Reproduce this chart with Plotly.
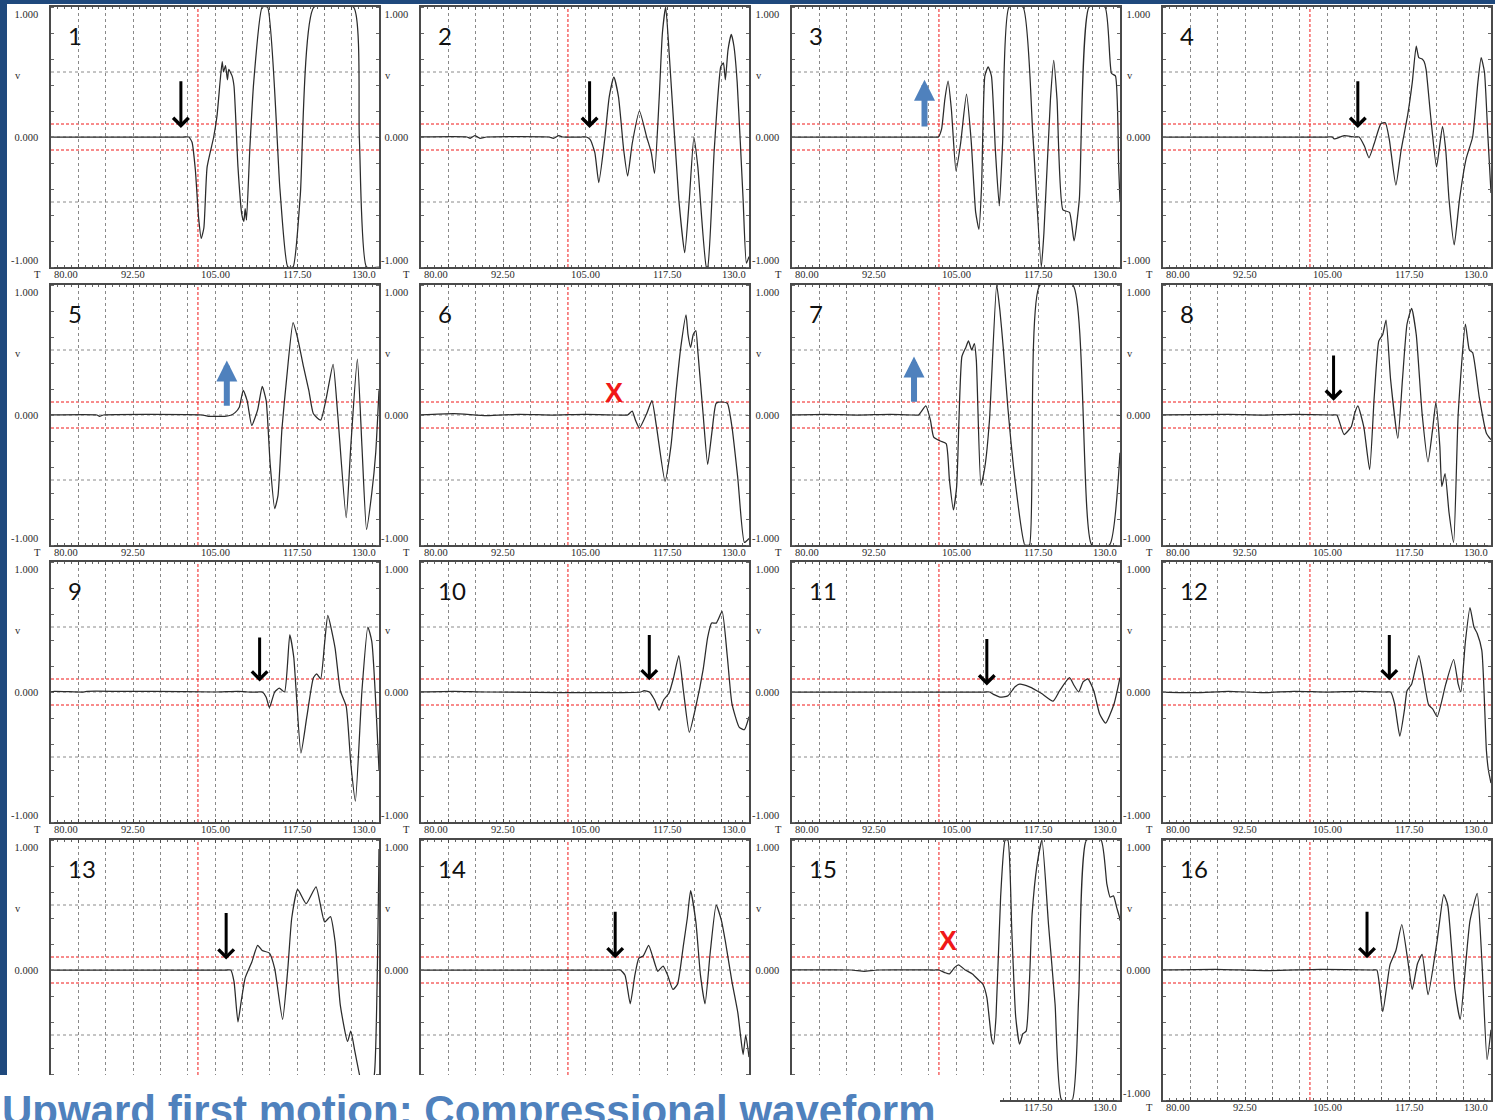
import plotly.graph_objects as go

# ---------------------------------------------------------------- data
TIME_RANGE = [80.0, 130.0]
AMP_RANGE = [-1.0, 1.0]
TIME_LABEL_VALUES = [80.0, 92.5, 105.0, 117.5, 130.0]
TIME_LABELS = ["80.00", "92.50", "105.00", "117.50", "130.0"]
TIME_GRID_STEP = 50.0 / 12
AMP_LABEL_VALUES = [0.94, 0.0, -0.95]
AMP_LABELS = ["1.000", "0.000", "-1.000"]
AMP_UNIT_LEVEL = 0.47
AMP_GRID = [-0.5, 0.0, 0.5]
PICK_TIME = 102.4
NOISE_BAND = [-0.1, 0.1]
PANEL_LABELS = [str(i) for i in range(1, 17)]
TITLE = "Upward first motion: Compressional waveform"

# waveforms: (time, amplitude) pairs
wave_01 = [(80, 0), (100.2, 0), (101.0, 0), (101.5, -0.04), (102.0, -0.25), (102.5, -0.62), (102.9, -0.78),
           (103.3, -0.7), (103.8, -0.23), (104.8, 0.0), (105.3, 0.16), (105.8, 0.44), (106.1, 0.58),
           (106.3, 0.50), (106.6, 0.55), (106.9, 0.44), (107.1, 0.52), (107.6, 0.47), (107.9, 0.39),
           (108.5, -0.23), (109.1, -0.6), (109.4, -0.65), (109.6, -0.55), (109.8, -0.64), (110.3, -0.1),
           (110.9, 0.42), (112.2, 1.0), (113.0, 1.0), (114.9, -0.4), (116.1, -1.0), (116.9, -1.0),
           (118.0, -0.45), (120.1, 1.0), (126.1, 1.0), (127.0, 0.0), (128.1, -1.0), (130, -1.0)]
wave_02 = [(80, 0), (87.0, 0), (87.5, -0.01), (88.2, 0.01), (89.0, -0.01), (90.0, 0), (99.5, 0),
           (100.2, -0.01), (101.0, 0.01), (101.6, 0), (104.4, 0), (105.2, 0), (105.8, -0.02), (106.5, -0.12),
           (107.1, -0.35), (108.0, -0.02), (108.7, 0.31), (109.4, 0.46), (110.1, 0.31), (110.9, -0.1),
           (111.5, -0.30), (112.2, -0.05), (113.3, 0.20), (114.4, 0.0), (115.1, -0.12), (115.6, -0.28),
           (116.3, 0.29), (116.8, 0.8), (117.3, 1.0), (117.9, 0.59), (119.3, -0.48), (120.2, -0.89),
           (120.9, -0.48), (121.6, 0.0), (122.2, -0.23), (123.5, -1.0), (123.7, -1.0), (124.7, -0.1),
           (125.7, 0.54), (126.1, 0.57), (126.4, 0.44), (126.8, 0.67), (127.3, 0.79), (127.7, 0.7),
           (128.2, 0.42), (129.1, -0.48), (129.6, -0.97), (130, -0.92)]
wave_03 = [(80, 0), (101.5, 0), (102.3, 0), (102.8, 0.06), (103.3, 0.29), (103.8, 0.43), (104.3, 0.21),
           (105.0, -0.26), (105.7, -0.05), (106.6, 0.33), (107.3, -0.02), (108.0, -0.58), (108.5, -0.71),
           (108.9, -0.38), (109.4, 0.47), (109.9, 0.54), (110.4, 0.47), (111.0, -0.1), (111.6, -0.53),
           (112.1, -0.05), (113.1, 1.0), (115.2, 1.0), (116.7, 0.03), (118.0, -1.0), (118.4, -0.74),
           (119.4, 0.29), (119.9, 0.59), (120.4, 0.29), (121.3, -0.56), (122.3, -0.58), (123.0, -0.80),
           (123.8, -0.48), (125.3, 1.0), (127.7, 1.0), (128.7, 0.49), (129.3, 0.47), (129.8, -0.23),
           (130, -0.5)]
wave_04 = [(80, 0), (105.0, 0), (105.8, 0), (106.1, -0.015), (107.6, 0.01), (109.2, 0), (109.9, 0),
           (110.7, -0.07), (111.4, -0.16), (112.2, -0.05), (113.2, 0.10), (113.9, 0.11), (114.5, -0.02),
           (115.5, -0.37), (116.3, -0.1), (117.3, 0.17), (118.0, 0.42), (118.6, 0.70), (119.0, 0.61),
           (119.5, 0.60), (119.8, 0.58), (120.1, 0.52), (120.8, 0.16), (121.7, -0.23), (122.6, 0.08),
           (123.1, -0.1), (123.6, -0.48), (124.4, -0.83), (125.2, -0.48), (126.2, -0.17), (127.2, 0.0),
           (128.0, 0.42), (128.5, 0.61), (129.0, 0.5), (129.5, 0.03), (130, -0.43)]
wave_05 = [(80, 0), (87.0, 0), (87.4, -0.01), (88.0, 0), (103.0, 0), (104.0, -0.01), (106.5, -0.01),
           (107.5, 0.0), (108.1, 0.02), (108.7, 0.06), (109.3, 0.19), (109.9, 0.11), (110.6, -0.08),
           (111.5, 0.04), (112.2, 0.22), (112.8, 0.11), (113.4, -0.37), (114.1, -0.72), (114.6, -0.62),
           (115.2, -0.11), (115.9, 0.27), (116.9, 0.71), (117.6, 0.59), (118.5, 0.37), (119.3, 0.19),
           (120.0, 0.01), (121.1, -0.04), (122.0, 0.14), (123.0, 0.39), (123.7, 0.01), (125.0, -0.79),
           (125.7, -0.24), (126.7, 0.43), (127.4, -0.24), (128.1, -0.88), (128.9, -0.6), (129.5, -0.29),
           (130, 0.19)]
wave_06 = [(80, 0), (85, 0.01), (90, -0.005), (95, 0.005), (100, 0), (105, 0.005), (110, 0),
           (111.5, 0.0), (112.2, 0.03), (112.7, -0.04), (113.3, -0.10), (114.4, 0.01), (115.2, 0.11),
           (115.9, -0.09), (117.2, -0.51), (118.1, -0.24), (118.9, 0.19), (119.6, 0.52), (120.4, 0.77),
           (120.7, 0.62), (121.1, 0.52), (121.5, 0.62), (121.9, 0.65), (122.2, 0.49), (123.0, 0.01),
           (123.7, -0.38), (124.4, -0.11), (125.0, 0.09), (125.9, 0.10), (126.7, 0.09), (127.4, -0.09),
           (128.3, -0.49), (129.3, -0.98), (130, -0.95)]
wave_07 = [(80, 0), (85, 0.005), (90, 0), (95, 0.005), (98.6, 0), (99.3, 0), (100.4, 0.07), (101.1, -0.04),
           (101.6, -0.17), (102.6, -0.2), (103.5, -0.22), (104.0, -0.5), (104.6, -0.73), (105.1, -0.55),
           (105.9, 0.45), (106.5, 0.52), (106.9, 0.57), (107.4, 0.5), (107.8, 0.55), (108.1, 0.42),
           (108.8, -0.54), (109.4, -0.4), (110.1, -0.04), (111.2, 1.0), (111.7, 0.8), (112.2, 0.52),
           (112.9, 0.06), (114.0, -0.5), (115.5, -1.0), (116.2, -1.0), (117.8, 1.0), (122.8, 1.0),
           (125.7, -1.0), (128.4, -1.0), (130, -0.29)]
wave_08 = [(80, 0), (90, 0.005), (95, 0), (100, 0.005), (105.8, 0), (106.5, 0), (107.6, -0.15), (108.7, -0.09),
           (109.2, 0.01), (109.7, 0.07), (110.6, -0.09), (111.5, -0.42), (112.2, 0.14), (112.9, 0.57),
           (113.5, 0.62), (114.0, 0.73), (114.7, 0.27), (115.8, -0.18), (116.5, 0.27), (117.2, 0.70),
           (117.9, 0.82), (118.6, 0.62), (119.5, 0.01), (120.4, -0.36), (121.1, -0.11), (121.6, 0.1),
           (122.2, -0.24), (122.5, -0.55), (123.0, -0.45), (123.6, -0.75), (124.3, -0.98), (125.0, 0.01),
           (126.1, 0.70), (126.7, 0.5), (127.2, 0.48), (128.2, 0.14), (129.3, -0.14), (130, -0.19)]
wave_09 = [(80, 0), (80.5, 0.005), (85, 0.0), (85.5, 0.005), (90.5, 0.005), (95.5, 0.005), (105, 0),
           (108.5, 0.005), (110, 0.0), (111.5, 0), (112.2, 0), (112.8, -0.04), (113.3, -0.12), (114.1, 0.0),
           (114.8, 0.03), (115.6, 0.0), (116.4, 0.44), (117.0, 0.27), (118.1, -0.47), (119.0, -0.19),
           (120.0, 0.11), (120.5, 0.14), (121.1, 0.10), (121.7, 0.37), (122.2, 0.59), (123.3, 0.34),
           (124.1, 0.01), (125.0, -0.11), (125.7, -0.55), (126.4, -0.84), (127.4, 0.01), (128.3, 0.50),
           (128.9, 0.39), (130, -0.6)]
wave_10 = [(80, 0), (85, 0.005), (90, 0), (113.5, 0), (114.0, 0.01), (114.8, 0), (115.6, -0.06),
           (116.3, -0.14), (117.0, -0.06), (117.8, -0.01), (118.5, 0.11), (119.3, 0.28), (120.0, 0.01),
           (120.9, -0.31), (121.9, -0.11), (123.0, 0.17), (123.7, 0.42), (124.3, 0.53), (125.0, 0.53),
           (125.9, 0.62), (126.7, 0.27), (127.4, -0.09), (128.5, -0.27), (129.3, -0.29), (130, -0.19)]
wave_11 = [(80, 0), (109.4, 0), (110.1, 0), (110.8, -0.02), (111.7, -0.04), (112.9, -0.03), (114.0, 0.04),
           (114.7, 0.06), (116.2, 0.04), (118.0, -0.01), (119.8, -0.07), (120.8, 0.01), (122.3, 0.11),
           (123.0, 0.05), (123.7, 0.0), (124.4, 0.08), (125.1, 0.10), (126.0, 0.01), (126.9, -0.17),
           (127.8, -0.24), (129.1, -0.09), (130, 0.11)]
wave_12 = [(80, 0), (85, -0.005), (90, 0.005), (95, -0.005), (100, 0.005), (105, 0), (110, 0.005),
           (114.0, 0), (114.7, 0), (115.3, -0.09), (116.1, -0.34), (116.8, -0.14), (117.2, 0.01), (117.9, 0.06),
           (119.0, 0.28), (119.7, 0.11), (120.5, -0.10), (121.1, -0.13), (121.8, -0.19), (123.1, 0.06),
           (124.3, 0.25), (125.0, 0.06), (125.4, 0.0), (126.1, 0.39), (126.8, 0.65), (127.4, 0.5),
           (127.9, 0.45), (128.6, 0.32), (129.3, -0.45), (129.6, -0.6), (130, -0.7)]
wave_13 = [(80, 0), (106.7, 0), (107.4, 0), (107.9, -0.09), (108.5, -0.40), (109.0, -0.24), (109.6, -0.06),
           (110.6, 0.06), (111.5, 0.19), (112.2, 0.15), (113.3, 0.13), (114.1, 0.01), (115.3, -0.38),
           (116.1, 0.01), (116.7, 0.40), (117.6, 0.62), (118.9, 0.51), (120.4, 0.64), (121.7, 0.37),
           (122.6, 0.41), (123.3, 0.22), (124.1, -0.27), (125.2, -0.55), (125.7, -0.47), (126.3, -0.62),
           (127.0, -0.8), (127.8, -0.98), (128.6, -0.95), (129.3, -0.8), (130, 0.93)]
wave_14 = [(80, 0), (109.7, 0), (110.4, 0), (111.1, -0.04), (111.9, -0.26), (112.6, -0.04), (113.2, 0.09),
           (113.9, 0.11), (114.7, 0.19), (115.4, 0.09), (116.1, -0.01), (116.9, 0.03), (117.6, -0.04),
           (118.4, -0.15), (119.1, -0.11), (120.0, 0.19), (120.6, 0.40), (121.1, 0.61), (121.9, 0.37),
           (122.6, -0.04), (123.3, -0.26), (124.1, 0.14), (125.0, 0.50), (125.8, 0.38), (126.4, 0.22),
           (127.4, -0.09), (128.3, -0.33), (128.7, -0.5), (129.1, -0.65), (129.5, -0.5), (130, -0.67)]
wave_15 = [(80, 0), (89, 0.0), (91, -0.01), (93, 0), (101.7, 0), (102.4, 0), (103.3, -0.02), (104.0, -0.03),
           (104.8, 0.02), (105.4, 0.04), (106.4, 0.0), (107.5, -0.03), (108.5, -0.08), (109.1, -0.11),
           (109.7, -0.21), (110.4, -0.52), (110.7, -0.57), (111.1, -0.36), (111.8, 0.56), (112.5, 1.0),
           (112.9, 1.0), (113.5, 0.31), (114.1, -0.36), (114.7, -0.57), (115.2, -0.49), (115.7, -0.47),
           (116.6, 0.43), (117.3, 0.79), (118.1, 1.0), (119.1, 0.35), (120.1, -0.26), (121.1, -1.0),
           (122.7, -1.0), (123.7, -0.21), (124.9, 1.0), (127.1, 1.0), (128.0, 0.66), (128.5, 0.56),
           (129.0, 0.57), (129.5, 0.48), (129.9, 0.41), (130, 0.38)]
wave_16 = [(80, 0), (88, 0.005), (96, -0.005), (104, 0.005), (111.9, 0), (112.6, 0), (113.5, -0.32), (114.6, 0.04),
           (115.5, 0.15), (116.4, 0.35), (117.3, 0.08), (118.0, -0.15), (118.8, 0.05), (119.5, 0.12),
           (120.4, -0.19), (121.8, 0.23), (122.8, 0.58), (123.4, 0.5), (124.5, -0.15), (125.3, -0.38),
           (126.2, 0.08), (126.8, 0.38), (127.9, 0.59), (128.6, 0.08), (129.4, -0.69), (130, -0.46)]

WAVES = [wave_01, wave_02, wave_03, wave_04, wave_05, wave_06, wave_07, wave_08,
         wave_09, wave_10, wave_11, wave_12, wave_13, wave_14, wave_15, wave_16]

# first-motion marks: (panel, kind, time, amplitude at head, amplitude at tail)
FIRST_MOTION = [
    (1, "down", 99.8, 0.07, 0.44), (2, "down", 105.7, 0.07, 0.44),
    (3, "up", 100.2, 0.44, 0.07), (4, "down", 109.7, 0.07, 0.44),
    (5, "up", 106.8, 0.42, 0.06), (6, "x", 109.4, 0.17, None),
    (7, "up", 98.6, 0.45, 0.09), (8, "down", 106.0, 0.11, 0.47),
    (9, "down", 111.8, 0.08, 0.43), (10, "down", 114.8, 0.09, 0.45),
    (11, "down", 109.7, 0.05, 0.42), (12, "down", 114.5, 0.09, 0.45),
    (13, "down", 106.7, 0.08, 0.45), (14, "down", 109.6, 0.09, 0.46),
    (15, "x", 103.8, 0.22, None), (16, "down", 111.1, 0.09, 0.46),
]

# ---------------------------------------------------------------- layout / style
W, H = 1495, 1120
COL_LEFT = [51, 421, 792, 1163]
ROW_TOP = [7, 285, 562, 840]
PW, PH = 328, 260
COVER_RIGHT, COVER_TOP = 1000, 1075   # white slide area at the bottom

LABEL_FONT = dict(family="Liberation Serif", size=10.5, color="#2a2a2a")
BORDER = "#4a4a4a"
GRID = "#8a8a8a"
RED = "#f01818"
BLUE = "#4f81bd"


def covered(px, py):
    return px < COVER_RIGHT and py > COVER_TOP


fig = go.Figure()
layout = dict(width=W, height=H, margin=dict(l=0, r=0, t=0, b=0, autoexpand=False),
              paper_bgcolor="white", plot_bgcolor="white", showlegend=False)
shapes, annotations = [], []

grid_vals = [TIME_RANGE[0] + k * TIME_GRID_STEP for k in range(13)]

for idx, wave in enumerate(WAVES):
    n = idx + 1
    r, c = divmod(idx, 4)
    L, T = COL_LEFT[c], ROW_TOP[r]
    xs = "" if n == 1 else str(n)
    xname, yname = "x" + xs, "y" + xs
    x0, x1 = L / W, (L + PW) / W
    y1, y0 = 1 - T / H, 1 - (T + PH) / H

    # amplitude labels (those hidden below the white caption area are left empty)
    amp_text = []
    for v, lab in zip(AMP_LABEL_VALUES, AMP_LABELS):
        py = T + (AMP_RANGE[1] - v) / (AMP_RANGE[1] - AMP_RANGE[0]) * PH
        amp_text.append("" if covered(L - 20, py) else lab)

    layout["xaxis" + xs] = dict(
        domain=[x0, x1], anchor=yname, range=TIME_RANGE, automargin=False,
        tickmode="array", tickvals=grid_vals, showticklabels=False,
        showgrid=True, gridcolor=GRID, gridwidth=1, griddash="3px,3px",
        zeroline=False, showline=True, linecolor=BORDER, linewidth=1.5, mirror="ticks",
        ticks="inside", ticklen=3, tickcolor=BORDER,
        minor=dict(tick0=TIME_RANGE[0], dtick=TIME_GRID_STEP / 4, ticks="inside",
                   ticklen=2, tickcolor="#666666", showgrid=False),
        fixedrange=True)
    layout["yaxis" + xs] = dict(
        domain=[y0, y1], anchor=xname, range=AMP_RANGE, automargin=False,
        tickmode="array", tickvals=AMP_LABEL_VALUES, ticktext=amp_text,
        showgrid=False, zeroline=False, showline=True, linecolor=BORDER, linewidth=1.5,
        mirror="ticks", ticks="", ticklabelstandoff=9,
        minor=dict(tick0=0, dtick=0.2, ticks="inside", ticklen=3, tickcolor="#666666",
                   showgrid=False),
        tickfont=LABEL_FONT, fixedrange=True)

    t_vals = [p[0] for p in wave]
    a_vals = [p[1] for p in wave]
    fig.add_trace(go.Scatter(x=t_vals, y=a_vals, mode="lines", xaxis=xname, yaxis=yname,
                             line=dict(color="#2b2b2b", width=1.25, shape="spline", smoothing=0.5),
                             hoverinfo="skip"))

    for g in AMP_GRID:
        shapes.append(dict(type="line", layer="below", xref=xname + " domain", yref=yname,
                           x0=0, x1=1, y0=g, y1=g, line=dict(color=GRID, width=1, dash="3px,3px")))
    for b in NOISE_BAND:
        shapes.append(dict(type="line", layer="below", xref=xname + " domain", yref=yname,
                           x0=0, x1=1, y0=b, y1=b, line=dict(color=RED, width=1, dash="3px,2px")))
    shapes.append(dict(type="line", layer="below", xref=xname, yref=yname + " domain",
                       x0=PICK_TIME, x1=PICK_TIME, y0=0, y1=1,
                       line=dict(color=RED, width=1, dash="3px,2px")))

    # time labels, placed on the time axis
    label_py = T + PH + 7
    for v, lab in zip(TIME_LABEL_VALUES, TIME_LABELS):
        px = L + (v - TIME_RANGE[0]) / (TIME_RANGE[1] - TIME_RANGE[0]) * PW
        if covered(px, label_py):
            continue
        anchor = "left" if v == TIME_RANGE[0] else ("right" if v == TIME_RANGE[1] else "center")
        annotations.append(dict(text=lab, xref=xname, yref="paper", x=v, y=1 - label_py / H,
                                xanchor=anchor, yanchor="middle", showarrow=False,
                                font=LABEL_FONT, xshift=1 if anchor == "left" else (-1 if anchor == "right" else 0)))

    # panel number
    annotations.append(dict(text=PANEL_LABELS[idx], xref=xname + " domain", yref=yname + " domain",
                            x=0.045, y=0.89, xanchor="left", yanchor="middle", showarrow=False,
                            font=dict(family="Lato", size=24, color="#111111")))
    # unit letters
    annotations.append(dict(text="v", xref="paper", yref=yname, x=(L - 38) / W, y=AMP_UNIT_LEVEL,
                            xanchor="left", yanchor="middle", showarrow=False, font=LABEL_FONT))
    if not covered(L - 14, label_py):
        annotations.append(dict(text="T", xref="paper", yref="paper", x=(L - 14) / W,
                                y=1 - label_py / H, xanchor="center", yanchor="middle",
                                showarrow=False, font=LABEL_FONT))

for n, kind, t, a_head, a_tail in FIRST_MOTION:
    xs = "" if n == 1 else str(n)
    xname, yname = "x" + xs, "y" + xs
    if kind == "x":
        annotations.append(dict(text="<b>X</b>", xref=xname, yref=yname, x=t, y=a_head,
                                showarrow=False, xanchor="center", yanchor="middle",
                                font=dict(family="Liberation Sans", size=27, color=RED)))
    else:
        style = dict(arrowhead=4, arrowwidth=3, arrowsize=1.0, arrowcolor="#000000") if kind == "down" \
            else dict(arrowhead=2, arrowwidth=6, arrowsize=0.7, arrowcolor=BLUE)
        annotations.append(dict(text="", xref=xname, yref=yname, axref=xname, ayref=yname,
                                x=t, y=a_head, ax=t, ay=a_tail, showarrow=True, **style))

# slide decoration: dark blue frame strips and white caption area
shapes.append(dict(type="rect", layer="above", xref="paper", yref="paper",
                   x0=0, x1=7 / W, y0=1 - COVER_TOP / H, y1=1, fillcolor="#1f497d", line=dict(width=0)))
shapes.append(dict(type="rect", layer="above", xref="paper", yref="paper",
                   x0=0, x1=1, y0=1 - 4 / H, y1=1, fillcolor="#1f497d", line=dict(width=0)))
shapes.append(dict(type="rect", layer="above", xref="paper", yref="paper",
                   x0=0, x1=COVER_RIGHT / W, y0=0, y1=1 - COVER_TOP / H,
                   fillcolor="white", line=dict(width=0)))
annotations.append(dict(text="<b>" + TITLE + "</b>", xref="paper", yref="paper",
                        x=0, y=1 - 1085 / H, xanchor="left", yanchor="top", showarrow=False,
                        font=dict(family="Liberation Sans", size=42, color=BLUE)))

layout["shapes"] = shapes
layout["annotations"] = annotations
fig.update_layout(**layout)
fig.write_html("out.html")
